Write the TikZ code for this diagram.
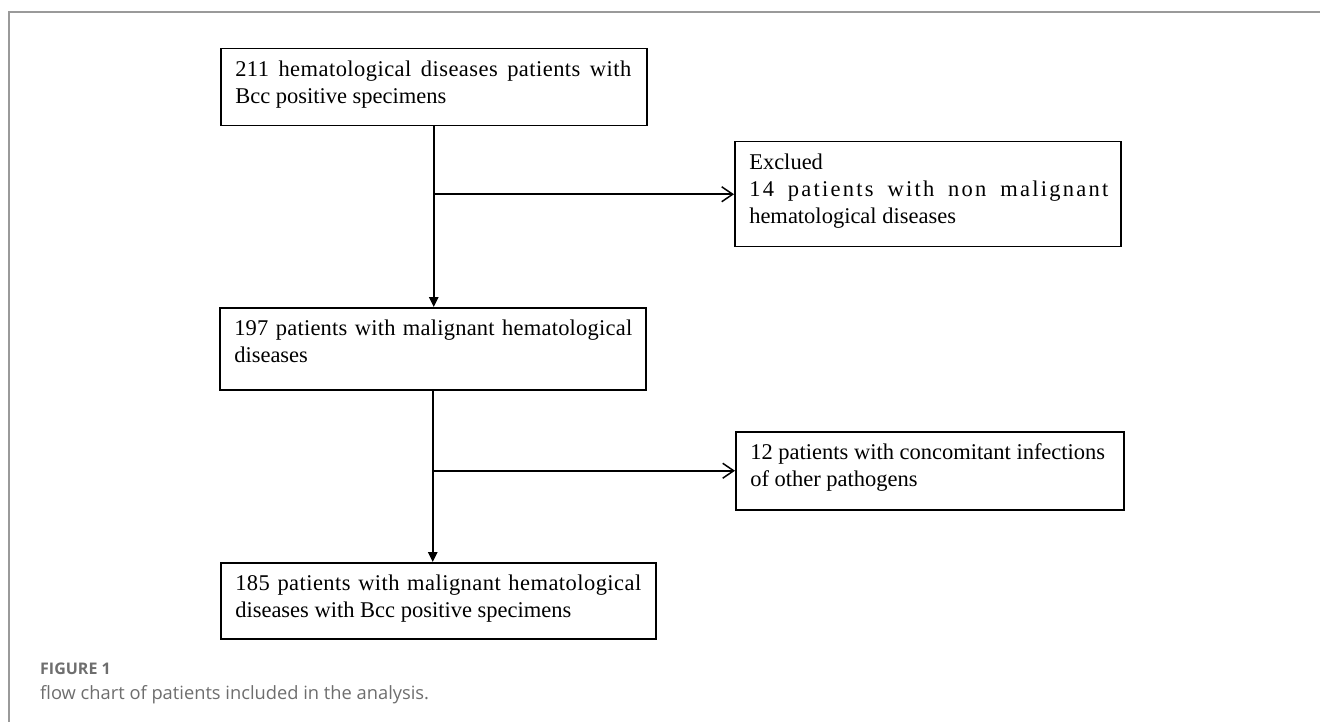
\documentclass[tikz,border=0pt]{standalone}
\usepackage{fontspec}
\setmainfont{Liberation Serif}
\newfontfamily\boxfontls[LetterSpace=10]{Liberation Serif}
\newfontfamily\lsA[LetterSpace=2]{Liberation Serif}
\newfontfamily\lsB[LetterSpace=1]{Liberation Serif}
\newfontfamily\capfont{Open Sans}
\usetikzlibrary{arrows.meta,positioning}
\definecolor{framegray}{HTML}{9A9A9A}
\definecolor{capgray}{HTML}{6E6E6E}
\tikzset{
  flowbox/.style={draw=black, line width=1.5pt, anchor=north west, inner xsep=14.5pt, inner ysep=9.1pt, align=left, font=\fontsize{22.5}{27}\selectfont},
  downarrow/.style={line width=1.5pt, -{Triangle[length=10pt,width=9.5pt]}},
  sidearrow/.style={line width=1.5pt, -{Straight Barb[length=11pt,width=15pt,line width=1.5pt]}},
  frameline/.style={draw=framegray, line width=1.2pt},
}
\newcommand{\boxtext}[3]{\parbox[t][#2][t]{#1}{\strut #3}}
\begin{document}
\begin{tikzpicture}[x=1pt,y=-1pt]
\useasboundingbox (0,0) rectangle (1320,722);
\fill[white] (0,0) rectangle (1320,722);
\draw[frameline] (9,722) -- (9,12) -- (1320,12);

\node[flowbox] (b1) at (220,48) {\boxtext{397pt}{58.8pt}{\makebox[396pt][s]{\lsA 211 hematological diseases patients with}\\Bcc positive specimens}};
\node[flowbox] (b2) at (734,141) {\boxtext{357pt}{86.8pt}{Exclued\\\makebox[359pt][s]{\boxfontls 14 patients with non malignant}\\hematological diseases}};
\node[flowbox] (b3) at (219,307) {\boxtext{397pt}{63.8pt}{\makebox[398pt][s]{\lsB 197 patients with malignant hematological}\\diseases}};
\node[flowbox] (b4) at (735,431) {\boxtext{359pt}{59.8pt}{12 patients with concomitant infections\\of other pathogens}};
\node[flowbox] (b5) at (220,562) {\boxtext{406pt}{57.8pt}{\makebox[406pt][s]{\lsA 185 patients with malignant hematological}\\diseases with Bcc positive specimens}};

\draw[downarrow] (b1.south) -- (b1.south |- b3.north);
\draw[sidearrow] (b1.south |- b2.west) -- (b2.west);
\draw[downarrow] (b3.south) -- (b3.south |- b5.north);
\draw[sidearrow] (b3.south |- b4.west) -- (b4.west);

\node[anchor=base west, inner sep=0pt, text=capgray, font=\capfont\bfseries\fontsize{16}{19}\selectfont] (fig) at (40,674) {FIGURE 1};
\node[anchor=base west, inner sep=0pt, text=capgray, font=\capfont\fontsize{18.3}{22}\selectfont] (cap) at (40,699) {flow chart of patients included in the analysis.};
\end{tikzpicture}
\end{document}
